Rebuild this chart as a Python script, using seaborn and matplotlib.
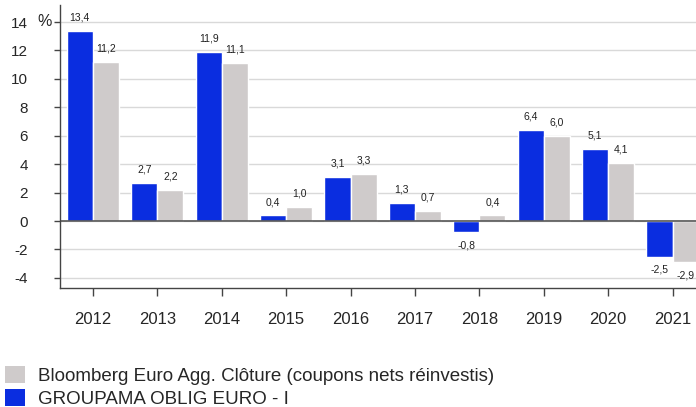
import numpy as np
import pandas as pd
import seaborn as sns
import matplotlib.pyplot as plt
from matplotlib.patches import Patch

# data
years = ["2012", "2013", "2014", "2015", "2016", "2017", "2018", "2019", "2020", "2021"]
fund_name = "GROUPAMA OBLIG EURO - I"
bench_name = "Bloomberg Euro Agg. Clôture (coupons nets réinvestis)"
fund = [13.4, 2.7, 11.9, 0.4, 3.1, 1.3, -0.8, 6.4, 5.1, -2.5]
bench = [11.2, 2.2, 11.1, 1.0, 3.3, 0.7, 0.4, 6.0, 4.1, -2.9]
yticks = [-4, -2, 0, 2, 4, 6, 8, 10, 12, 14]

blue = "#0a2de0"
grey = "#cfcbcb"

sns.set_style("white")
plt.rcParams["font.family"] = ["Liberation Sans", "DejaVu Sans"]
plt.rcParams["axes.unicode_minus"] = False

df = pd.DataFrame({
    "year": years * 2,
    "value": fund + bench,
    "series": [fund_name] * len(years) + [bench_name] * len(years),
})

fig = plt.figure(figsize=(6.96, 4.07), dpi=100)
ax = fig.add_axes([60 / 696, 119 / 407, 648 / 696, 283 / 407])

sns.barplot(data=df, x="year", y="value", hue="series",
            hue_order=[fund_name, bench_name], palette=[blue, grey],
            saturation=1, width=0.81, edgecolor="white", linewidth=1,
            legend=False, ax=ax)

ax.set_xlim(-0.51, 9.55)
ax.set_ylim(-4.71, 15.2)
ax.set_yticks(yticks)
ax.set_xlabel("")
ax.set_ylabel("")
ax.grid(axis="y", color="#d9d9d9", linewidth=1)
ax.set_axisbelow(True)
ax.axhline(0, color="#555555", linewidth=1.2)

for side in ["top", "right"]:
    ax.spines[side].set_visible(False)
for side in ["left", "bottom"]:
    ax.spines[side].set_color("#444444")
    ax.spines[side].set_linewidth(1)

ax.tick_params(axis="x", length=6, width=1, color="#444444", pad=11,
               labelsize=12, bottom=True)
ax.tick_params(axis="y", length=4, width=1, color="#444444", pad=19,
               labelsize=11, left=True)

for container, vals in zip(ax.containers, [fund, bench]):
    labels = [f"{v:.1f}".replace(".", ",") for v in vals]
    ax.bar_label(container, labels=labels, padding=6, fontsize=7.5, color="#222222")

fig.text(45 / 696, 1 - 21 / 407, "%", ha="center", va="center", fontsize=11.5)

handles = [Patch(facecolor=grey, edgecolor="none"),
           Patch(facecolor=blue, edgecolor="none")]
fig.legend(handles, [bench_name, fund_name], loc="lower left",
           bbox_to_anchor=(1.5 / 696, -0.012), frameon=False, fontsize=13.5,
           handlelength=1.07, handleheight=1.0, handletextpad=0.7,
           labelspacing=0.23, borderaxespad=0, borderpad=0.2)

fig.savefig("out.png", dpi=100)
